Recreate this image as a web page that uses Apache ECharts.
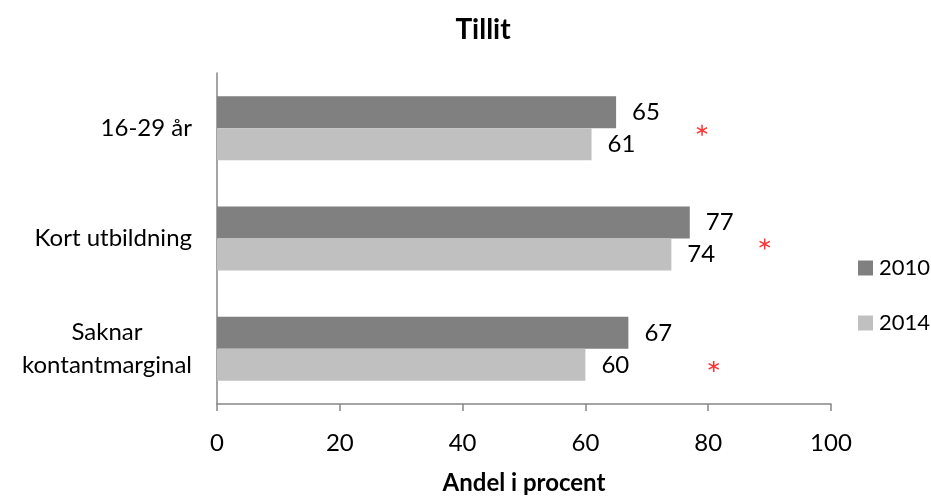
<!DOCTYPE html>
<html>
<head>
<meta charset="utf-8">
<script src="https://cdn.jsdelivr.net/npm/echarts@6/dist/echarts.min.js"></script>
<style>html,body{margin:0;padding:0;background:#fff;}#c{width:931px;height:500px;}</style>
</head>
<body>
<div id="c"></div>
<script>
var categories = ['16-29 år', 'Kort utbildning', 'Saknar\nkontantmarginal'];
var values2010 = [65, 77, 67];
var values2014 = [61, 74, 60];
var starX = [79, 89.2, 80.9];
var starY = [0.52, 1.55, 2.66];
var xTicks = [0, 20, 40, 60, 80, 100];
var FONT = 'Lato';
var FS = 24;

var ASTERISK = 'path://M-1.3,-10L1.3,-10L1.3,10L-1.3,10Z' +
  'M-9.31,-3.87L-8.01,-6.13L9.31,3.87L8.01,6.13Z' +
  'M-8.01,6.13L-9.31,3.87L8.01,-6.13L9.31,-3.87Z';

var chart = echarts.init(document.getElementById('c'));
chart.setOption({
  animation: false,
  textStyle: { fontFamily: FONT },
  title: {
    text: 'Tillit', left: 478, top: 11, textAlign: 'center',
    textStyle: { fontFamily: FONT, fontSize: 28, fontWeight: 'bold', color: '#000' }
  },
  legend: {
    orient: 'vertical', left: 858, top: 257, itemWidth: 15, itemHeight: 15, itemGap: 33,
    icon: 'rect', padding: 0,
    textStyle: { fontFamily: FONT, fontSize: 22, lineHeight: 15, color: '#000', padding: [0, 0, 0, 1] },
    data: ['2010', '2014']
  },
  grid: { left: 217, right: 100, top: 73, bottom: 87, containLabel: false },
  xAxis: {
    type: 'value', min: xTicks[0], max: xTicks[xTicks.length - 1], interval: 20,
    name: 'Andel i procent', nameLocation: 'middle', nameGap: 67,
    nameTextStyle: { fontFamily: FONT, fontSize: FS, fontWeight: 'bold', color: '#000' },
    axisLine: { show: true, onZero: false, lineStyle: { color: '#868686', width: 1.5 } },
    axisTick: { show: true, length: 7, lineStyle: { color: '#868686', width: 1.5 } },
    axisLabel: { fontFamily: FONT, fontSize: FS, color: '#000', margin: 27 },
    splitLine: { show: false }
  },
  yAxis: [{
    type: 'category', data: categories, inverse: true,
    axisLine: { show: true, onZero: false, lineStyle: { color: '#868686', width: 1.5 } },
    axisTick: { show: false },
    axisLabel: {
      fontFamily: FONT, fontSize: FS, color: '#000', margin: 25, align: 'right', lineHeight: 33,
      formatter: function (v) {
        return v.split('\n').map(function (s) { return '{c|' + s + '}'; }).join('\n');
      },
      rich: { c: { align: 'center', fontFamily: FONT, fontSize: FS, color: '#000', lineHeight: 33 } }
    }
  }, {
    type: 'value', min: 0, max: 3, inverse: true, show: false
  }],
  series: [{
    name: '2010', type: 'bar', data: values2010, barWidth: 32, barGap: '0%',
    itemStyle: { color: '#808080' },
    label: { show: true, position: 'right', distance: 16, fontFamily: FONT, fontSize: FS, color: '#000' }
  }, {
    name: '2014', type: 'bar', data: values2014, barWidth: 32, barGap: '0%',
    itemStyle: { color: '#c0c0c0' },
    label: { show: true, position: 'right', distance: 16, fontFamily: FONT, fontSize: FS, color: '#000' }
  }, {
    name: 'star', type: 'scatter', yAxisIndex: 1, symbol: ASTERISK, symbolSize: 11,
    itemStyle: { color: '#ff0000' },
    data: starX.map(function (x, i) { return [x, starY[i]]; }),
    tooltip: { show: false }
  }]
});
</script>
</body>
</html>
